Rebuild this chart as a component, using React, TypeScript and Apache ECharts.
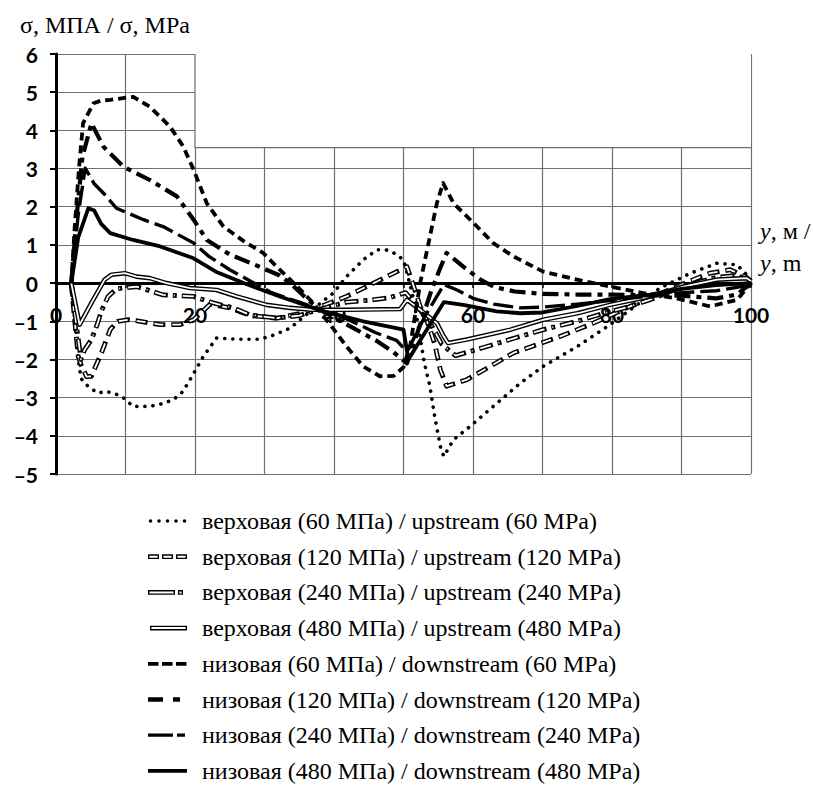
import React, { useEffect, useRef } from 'react';
import * as echarts from 'echarts';

type P = [number, number];

const NAMES = [
  'верховая (60 МПа) / upstream (60 MPa)',
  'верховая (120 МПа) / upstream (120 MPa)',
  'верховая (240 МПа) / upstream (240 MPa)',
  'верховая (480 МПа) / upstream (480 MPa)',
  'низовая (60 МПа) / downstream (60 MPa)',
  'низовая (120 МПа) / downstream (120 MPa)',
  'низовая (240 МПа) / downstream (240 MPa)',
  'низовая (480 МПа) / downstream (480 MPa)',
];

const UP60: P[] = [[2.2,0],[3.2,-2.0],[3.6,-2.5],[4.6,-2.7],[6.0,-2.88],[7.2,-2.84],[8.2,-2.88],[9.5,-2.97],[11.1,-3.23],[13.5,-3.23],[15.5,-3.15],[16.9,-3.05],[18.2,-2.85],[19.3,-2.53],[21.2,-1.92],[23.1,-1.44],[26,-1.47],[29.4,-1.47],[31.5,-1.35],[33.7,-1.18],[36.5,-0.75],[39.9,-0.26],[41.8,0.17],[44.2,0.61],[46.2,0.87],[47.5,0.87],[48.6,0.79],[50,0.61],[51.3,-0.3],[52.2,-1.2],[53,-2.1],[53.8,-2.7],[54.5,-3.5],[55.3,-4.28],[55.8,-4.54],[57.2,-4.1],[59.6,-3.75],[62.9,-3.23],[66.8,-2.62],[70.1,-2.18],[75,-1.66],[79.3,-1.14],[83.6,-0.57],[86.9,-0.13],[91.3,0.26],[95.1,0.52],[98,0.48],[100,0.1]];
const UP120: P[] = [[2.2,0],[2.7,-1.0],[3.2,-1.92],[3.6,-2.14],[4.4,-2.45],[5.1,-2.44],[5.8,-2.14],[6.6,-1.8],[7.8,-1.22],[8.9,-1.0],[10.4,-0.96],[12.1,-1.0],[15,-1.09],[17.8,-1.09],[19.8,-0.96],[22.2,-0.55],[25,-0.65],[28,-0.85],[31.8,-0.92],[35,-0.8],[37.5,-0.65],[39.4,-0.52],[41.8,-0.35],[44.7,-0.09],[47.6,0.17],[50.5,0.43],[51.5,-0.1],[52.4,-0.61],[53.6,-1.1],[54.5,-1.6],[55.3,-2.27],[56.2,-2.7],[59.1,-2.53],[62,-2.23],[65.8,-1.83],[72.5,-1.4],[77.3,-1.05],[82.1,-0.65],[86,-0.35],[91.7,0.09],[94.1,0.26],[97,0.35],[99.2,0.17],[100,0.05]];
const UP240: P[] = [[2.2,0],[3.0,-1.2],[3.6,-2.0],[4.1,-1.75],[5.1,-1.48],[6.0,-1.05],[6.5,-0.74],[7.5,-0.35],[8.7,-0.15],[11.6,-0.09],[15.4,-0.31],[19.8,-0.35],[22.6,-0.52],[25.5,-0.65],[27.9,-0.83],[31.8,-0.92],[35,-0.85],[38,-0.68],[41.8,-0.5],[45,-0.45],[48,-0.38],[50.3,-0.25],[52,-0.6],[54,-1.1],[55.5,-1.6],[57.5,-1.9],[62,-1.66],[66,-1.44],[70.1,-1.22],[75,-1.0],[78.8,-0.79],[82.6,-0.61],[86,-0.4],[90,-0.1],[95,0.15],[98,0.2],[100,0.05]];
const UP480: P[] = [[2.2,0],[3.4,-1.09],[5.1,-0.52],[7.0,0.09],[8.0,0.22],[9.9,0.26],[11.6,0.17],[13.5,0.13],[15.9,0],[19.3,-0.13],[23.1,-0.18],[26,-0.35],[30.3,-0.57],[33.7,-0.65],[37,-0.7],[41.8,-0.7],[49.5,-0.68],[50.5,-0.44],[52.4,-0.7],[54.8,-1.05],[55.8,-1.4],[56.4,-1.57],[59.1,-1.48],[65.4,-1.22],[70.1,-0.96],[75,-0.79],[79.7,-0.57],[85.5,-0.35],[90.3,-0.09],[95.1,0.09],[99.4,0.13],[100,0.05]];
const DN60: P[] = [[2.2,0],[2.7,1.48],[3.3,3.0],[3.9,4.19],[5.4,4.71],[6.5,4.78],[7.8,4.8],[11.1,4.88],[13.5,4.62],[16.4,4.1],[18.3,3.58],[19.8,2.97],[21.7,2.09],[24.1,1.48],[27,1.1],[29.8,0.79],[32.2,0.35],[34.5,-0.05],[37,-0.52],[39.5,-1.1],[41.8,-1.66],[44.2,-2.18],[46.6,-2.44],[48.6,-2.43],[50,-2.2],[51,-1.6],[52.4,0],[53.8,1.22],[54.8,2.09],[55.7,2.62],[57.2,2.09],[60.1,1.57],[62.9,1.05],[65.8,0.7],[70.1,0.3],[75,0.09],[79.7,-0.09],[84.5,-0.26],[89.3,-0.4],[94.1,-0.61],[98,-0.44],[100,0]];
const DN120: P[] = [[2.2,0],[3.0,1.8],[3.8,3.3],[5.1,4.19],[6.8,3.58],[9.7,3.05],[13.5,2.7],[17.4,2.27],[19.8,1.66],[21.7,1.13],[25,0.75],[29,0.45],[32.2,0.2],[34,-0.05],[36,-0.4],[38,-0.7],[42,-1.1],[46,-1.5],[48.5,-1.8],[50.5,-2.1],[52,-1.3],[54,-0.2],[55.3,0.4],[56.2,0.79],[58.6,0.43],[61,0.1],[63,-0.1],[66,-0.22],[70,-0.28],[75,-0.3],[80,-0.3],[85,-0.32],[90,-0.33],[95,-0.4],[98,-0.3],[100,0]];
const DN240: P[] = [[2.2,0],[3.2,1.8],[4.2,3.01],[5.5,2.6],[6.8,2.36],[8.7,1.96],[12.6,1.66],[15.4,1.48],[19.8,1.05],[22,0.7],[25,0.35],[28,0.05],[31,-0.25],[35,-0.5],[38,-0.7],[42,-0.95],[46,-1.3],[49,-1.5],[50.5,-1.8],[53,-0.9],[55.8,-0.04],[57.7,-0.18],[60,-0.4],[63,-0.55],[66.8,-0.65],[70,-0.63],[75,-0.55],[80,-0.45],[85,-0.35],[90,-0.25],[95,-0.2],[100,-0.05]];
const DN480: P[] = [[2.2,0],[3.2,1.2],[4.65,1.96],[5.5,1.9],[6.5,1.55],[7.8,1.31],[11.1,1.13],[15,0.96],[19.8,0.65],[23,0.3],[27,0],[32.2,-0.35],[38.5,-0.74],[44.2,-1.0],[50,-1.22],[50.7,-2.0],[55.8,-0.5],[58.6,-0.57],[63.4,-0.74],[66.8,-0.79],[70,-0.77],[75,-0.6],[79.7,-0.42],[85.5,-0.3],[90,-0.15],[95,-0.05],[100,0]];

// upper boundary of the plotted frame (top-right part is cut away)
const FRAME: P[] = [[20,6],[20,3.55],[100,3.55]];

const X_TICKS = { min: 0, max: 100, step: 10, labelEvery: 20 };
const Y_TICKS = { min: -5, max: 6, step: 1 };

// grid geometry
const GRID = { left: 56, right: 62, top: 54, bottom: 317 };

// legend icon helpers (drawn in a 49 x 8 box)
const W = 49, H = 8;
const box = `M0 0L0 0ZM${W} ${H}L${W} ${H}Z`;
const rcw = (x: number, y: number, w: number, h: number) => `M${x} ${y}L${x + w} ${y}L${x + w} ${y + h}L${x} ${y + h}Z`;
const rccw = (x: number, y: number, w: number, h: number) => `M${x} ${y}L${x} ${y + h}L${x + w} ${y + h}L${x + w} ${y}Z`;
const hollow = (x: number, w: number) => rcw(x, 1.6, w, 4.8) + rccw(x + 1.4, 3.0, w - 2.8, 2.0);
const filled = (x: number, w: number, h: number) => rcw(x, 4 - h / 2, w, h);
const dot = (cx: number, r: number) => `M${cx - r} 4A${r} ${r} 0 1 1 ${cx + r} 4A${r} ${r} 0 1 1 ${cx - r} 4Z`;

const ICONS = [
  box + [2.5, 11, 19.5, 28, 36.5].map((c) => dot(c, 1.8)).join(''),
  box + hollow(0, 11) + hollow(14, 11) + hollow(28, 11),
  box + hollow(0, 27) + hollow(30, 5),
  box + hollow(2, 37),
  box + filled(0, 10.5, 3.8) + filled(14, 10.5, 3.8) + filled(28, 10.5, 3.8),
  box + filled(0, 15, 4.6) + filled(25, 7, 4.6),
  box + filled(0, 25, 3.2) + filled(29, 8, 3.2),
  box + filled(0, 39, 3.8),
];

const FONT_SERIF = 'Liberation Serif';
const FONT_AXIS = 'Lato';

function line(name: string, data: P[], lineStyle: any, extra: any = {}) {
  return {
    type: 'line',
    name,
    data,
    symbol: 'none',
    showSymbol: false,
    silent: true,
    clip: true,
    itemStyle: { color: lineStyle.color },
    lineStyle: { join: 'round', ...lineStyle },
    emphasis: { disabled: true },
    ...extra,
  };
}

function buildOption() {
  const series: any[] = [];
  series.push(
    line('_frame', FRAME, { color: '#6f6f6f', width: 1.2 }, {
      z: 1.5,
      markArea: {
        silent: true,
        itemStyle: { color: '#fff', borderWidth: 0 },
        data: [[{ coord: [20, 3.55] }, { coord: [100.8, 6.2] }]],
      },
    }),
  );
  const blk = '#000';
  series.push(line(NAMES[0], UP60, { color: blk, width: 3.6, type: [0.1, 8], cap: 'round' }));
  series.push(line(NAMES[1], UP120, { color: blk, width: 4.8, type: [12, 6], cap: 'butt' }));
  series.push(line('_in1', UP120, { color: '#fff', width: 1.8, type: [9, 9], dashOffset: 16.5, cap: 'butt' }));
  series.push(line(NAMES[2], UP240, { color: blk, width: 4.8, type: [14, 5, 4, 5], cap: 'butt' }));
  series.push(line('_in2', UP240, { color: '#fff', width: 1.8, type: [11, 8, 1, 8], dashOffset: 26.5, cap: 'butt' }));
  series.push(line(NAMES[3], UP480, { color: blk, width: 4.6 }));
  series.push(line('_in3', UP480, { color: '#fff', width: 1.8 }));
  series.push(line(NAMES[4], DN60, { color: blk, width: 3.8, type: [8, 5], cap: 'butt' }));
  series.push(line(NAMES[5], DN120, { color: blk, width: 4.2, type: [16, 6, 5, 6], cap: 'butt' }));
  series.push(line(NAMES[6], DN240, { color: blk, width: 3.4, type: [20, 6], cap: 'butt' }));
  series.push(line(NAMES[7], DN480, { color: blk, width: 3.8 }));

  const plotH = 791 - GRID.top - GRID.bottom;
  const zeroShift = (plotH * (0 - Y_TICKS.min)) / (Y_TICKS.max - Y_TICKS.min);

  return {
    animation: false,
    backgroundColor: '#fff',
    title: {
      text: 'σ, МПА / σ, MPa',
      left: 15,
      top: 8,
      textStyle: { fontFamily: FONT_SERIF, fontSize: 24, fontWeight: 'normal', color: '#000' },
    },
    grid: { ...GRID, containLabel: false },
    xAxis: {
      type: 'value',
      min: X_TICKS.min,
      max: X_TICKS.max,
      interval: X_TICKS.step,
      offset: -zeroShift,
      axisLine: { onZero: false, lineStyle: { color: '#000', width: 3 } },
      axisTick: { show: true, length: 5, lineStyle: { color: '#000', width: 1.5 } },
      axisLabel: {
        formatter: (v: number) => (v % X_TICKS.labelEvery === 0 ? String(v) : ''),
        fontFamily: FONT_AXIS,
        fontWeight: 'bold',
        fontSize: 21,
        color: '#000',
        margin: 21,
        showMinLabel: true,
        showMaxLabel: true,
      },
      splitLine: { show: true, lineStyle: { color: '#6f6f6f', width: 1.2 } },
    },
    yAxis: {
      type: 'value',
      min: Y_TICKS.min,
      max: Y_TICKS.max,
      interval: Y_TICKS.step,
      axisLine: { show: true, onZero: false, lineStyle: { color: '#000', width: 3 } },
      axisTick: { show: true, length: 6, lineStyle: { color: '#000', width: 2 } },
      axisLabel: {
        formatter: (v: number) => (v < 0 ? '–' + String(-v) : String(v)),
        fontFamily: FONT_AXIS,
        fontWeight: 'bold',
        fontSize: 21,
        color: '#000',
        margin: 18,
      },
      splitLine: { show: true, lineStyle: { color: '#6f6f6f', width: 1.2 } },
    },
    legend: {
      orient: 'vertical',
      left: 143,
      top: 503,
      height: 300,
      itemWidth: W,
      itemHeight: H,
      itemGap: 9.7,
      selectedMode: false,
      itemStyle: { color: '#000', borderWidth: 0 },
      textStyle: { fontFamily: FONT_SERIF, fontSize: 24, color: '#000', lineHeight: 26 },
      data: NAMES.map((name, i) => ({ name, icon: 'path://' + ICONS[i] })),
    },
    graphic: [
      {
        type: 'text',
        left: 760,
        top: 215,
        silent: true,
        style: {
          text: '{i|y}, м /\n{i|y}, m',
          fontFamily: FONT_SERIF,
          fontSize: 24,
          lineHeight: 32,
          fill: '#000',
          rich: {
            i: { fontStyle: 'italic', fontFamily: FONT_SERIF, fontSize: 24, lineHeight: 32 },
          },
        },
      },
    ],
    series,
  };
}

export default function App() {
  const ref = useRef<HTMLDivElement>(null);
  useEffect(() => {
    if (!ref.current) return;
    const chart = echarts.init(ref.current, null, { renderer: 'svg' });
    chart.setOption(buildOption() as any);
    return () => chart.dispose();
  }, []);
  return (
    <div
      ref={ref}
      style={{ position: 'fixed', left: 0, top: 0, width: 813, height: 791, background: '#fff' }}
    />
  );
}
